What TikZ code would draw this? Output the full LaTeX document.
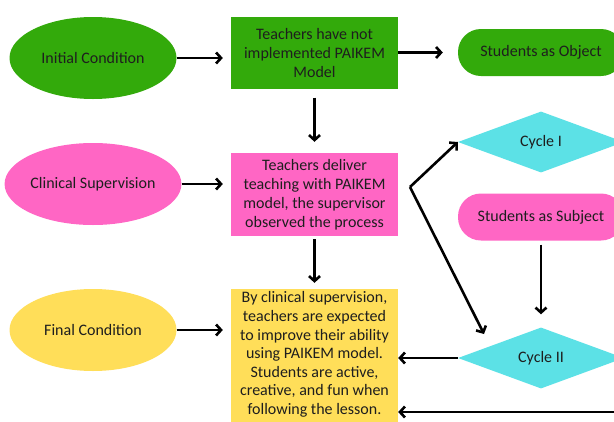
\documentclass[tikz,border=0pt]{standalone}
\usepackage{fontspec}
\setmainfont{Carlito}
\usetikzlibrary{shapes.geometric,arrows.meta,calc}
\definecolor{cgreen}{HTML}{33AA0B}
\definecolor{cpink}{HTML}{FF66C4}
\definecolor{cyellow}{HTML}{FFDE59}
\definecolor{ccyan}{HTML}{5CE1E6}
\definecolor{ctext}{HTML}{1E1E1E}
\begin{document}
\begin{tikzpicture}[x=1pt,y=-1pt,
  every node/.style={font=\fontsize{16}{19}\selectfont, text=ctext, align=center, inner sep=0pt},
  ell/.style={ellipse, minimum width=167pt, minimum height=82pt},
  box/.style={rectangle, minimum width=167pt},
  pill/.style={rectangle, rounded corners=23pt, minimum width=166pt, minimum height=47pt},
  dia/.style={diamond, fill=ccyan, minimum width=166pt, minimum height=61pt},
  conn/.style={draw=black, line width=2.6pt, -{Straight Barb[length=5pt,width=11pt]}}
]
\useasboundingbox (0,0) rectangle (614,421);
\clip (0,0) rectangle (614,421);
\fill[white] (0,0) rectangle (614,421);

% left column
\node[ell, fill=cgreen] (init) at (93,58) {Initial Condition};
\node[ell, fill=cpink] (clin) at (93,184) {Clinical Supervision};
\node[ell, fill=cyellow] (final) at (93,330) {Final Condition};

% middle column
\node[box, fill=cgreen, minimum height=72pt] (notimpl) at (314.5,52.5) {Teachers have not\\implemented PAIKEM\\Model};
\node[box, fill=cpink, minimum height=83pt] (deliver) at (314.5,194.5) {Teachers deliver\\teaching with PAIKEM\\model, the supervisor\\observed the process};
\node[box, fill=cyellow, minimum height=140pt] (expect) at (314.5,359) {};
\node[font=\fontsize{16}{18.6}\selectfont] (expecttext) at (314.5,354.5) {By clinical supervision,\\teachers are expected\\to improve their ability\\using PAIKEM model.\\Students are active,\\creative, and fun when\\following the lesson.};

% right column
\node[pill, fill=cgreen] (sobj) at (541,52.5) {Students as Object};
\node[dia] (cyc1) at (541,142) {Cycle I};
\node[pill, fill=cpink] (ssub) at (541,217) {Students as Subject};
\node[dia] (cyc2) at (541,358) {Cycle II};

\coordinate (split) at (410,187);
\coordinate (c2in) at (484,334);
\coordinate (rightend) at (630,412);

% connectors
\draw[conn, shorten >=8pt] (init.east) -- (init.east -| notimpl.west);
\draw[conn, shorten >=15pt] (notimpl.east |- sobj.west) -- (sobj.west);
\draw[conn, shorten <=9pt, shorten >=11pt] (notimpl.south) -- (deliver.north);
\draw[conn, shorten >=8pt] (clin.east) -- (clin.east -| deliver.west);
\draw[conn, shorten <=3pt, shorten >=6pt] (deliver.south) -- (expect.north);
\draw[conn, shorten >=8pt] (final.east) -- (final.east -| expect.west);
\draw[conn] (split) -- (cyc1.west);
\draw[conn] (split) -- (c2in);
\draw[conn, shorten <=4pt, shorten >=13pt] (ssub.south) -- (cyc2.north);
\draw[conn] (cyc2.west) -- (cyc2.west -| expect.east);
\draw[conn] (rightend) -- (rightend -| expect.east);
\end{tikzpicture}
\end{document}
